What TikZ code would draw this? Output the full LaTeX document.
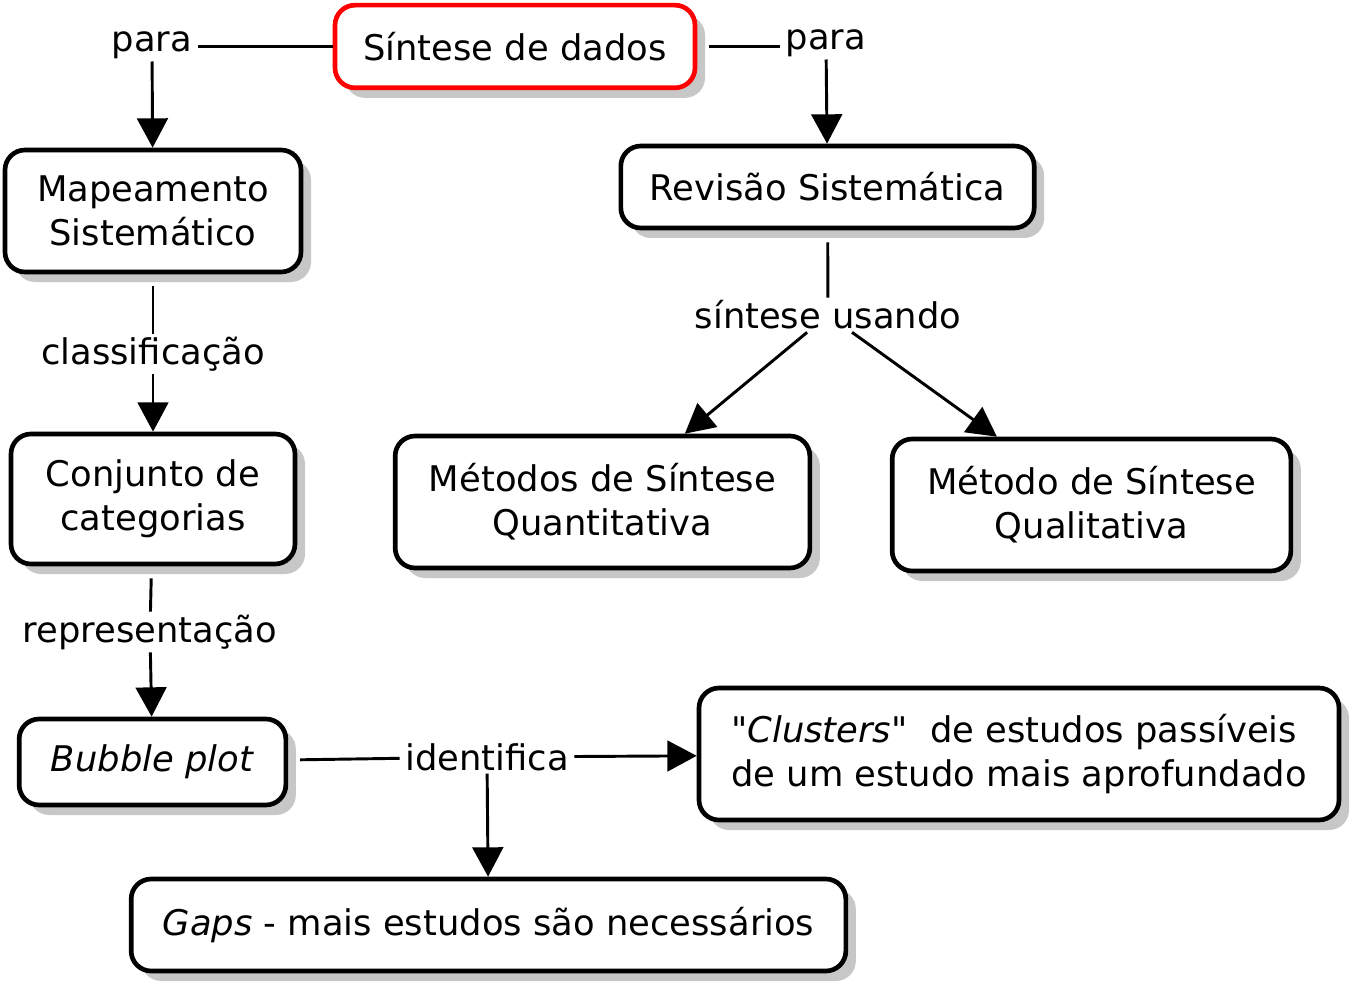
\documentclass[tikz,border=0pt]{standalone}
\usepackage{fontspec}
\setmainfont{DejaVu Sans}[Ligatures=TeXOff]
\usetikzlibrary{arrows.meta,shadows}
\begin{document}
\begin{tikzpicture}[x=0.75pt,y=-0.75pt,font=\fontsize{26.5}{33}\selectfont,line join=round,>={Triangle[length=22pt,width=23pt]},
	caixa/.style={draw,line width=3.5pt,rounded corners=15pt,fill=white,align=center,inner sep=0pt,drop shadow={shadow xshift=7.5pt,shadow yshift=-7.5pt,fill=black!22,opacity=1}},
	rotulo/.style={inner xsep=4pt,inner ysep=2pt},
	liga/.style={line width=2.2pt}]
	\useasboundingbox (0,0) rectangle (1359,991);
	% conceitos
	\node[caixa,draw=red,minimum width=270pt,minimum height=62pt] (sintese) at (515,46.5) {Síntese de dados};
	\node[caixa,minimum width=222pt,minimum height=91.5pt] (mapeamento) at (153,211) {Mapeamento\\Sistemático};
	\node[caixa,minimum width=310pt,minimum height=61.5pt] (revisao) at (827.5,187) {Revisão Sistemática};
	\node[caixa,minimum width=213pt,minimum height=97.5pt] (conjunto) at (153,499) {Conjunto de\\categorias};
	\node[caixa,minimum width=311pt,minimum height=99pt] (quantitativa) at (602.5,502) {Métodos de Síntese\\Quantitativa};
	\node[caixa,minimum width=299pt,minimum height=99pt] (qualitativa) at (1091.5,505) {Método de Síntese\\Qualitativa};
	\node[caixa,minimum width=200pt,minimum height=64.5pt] (bubble) at (152.5,762) {\textit{Bubble plot}};
	\node[caixa,align=left,minimum width=480pt,minimum height=99pt] (clusters) at (1019,754) {\textit{"Clusters"}~ de estudos passíveis\\de um estudo mais aprofundado};
	\node[caixa,minimum width=536pt,minimum height=69pt] (gaps) at (488.5,925) {\textit{Gaps} - mais estudos são necessários};
	% frases de ligacao
	\node[rotulo] (paraL) at (152,45) {para};
	\node[rotulo] (paraR) at (826,43) {para};
	\node[rotulo] (classif) at (153,354) {classificação};
	\node[rotulo] (sintuso) at (828,315) {síntese usando};
	\node[rotulo] (repres) at (150,632) {representação};
	\node[rotulo] (ident) at (487,757) {identifica};
	% ligacoes
	\draw[liga] (sintese.west) -- (sintese.west -| paraL.east);
	\draw[liga,->] (paraL) -- (mapeamento);
	\draw[liga,shorten <=9pt] (sintese.east) -- (sintese.east -| paraR.west);
	\draw[liga,->] (paraR) -- (revisao);
	\draw[liga,shorten <=9pt] (mapeamento) -- (classif);
	\draw[liga,->] (classif) -- (conjunto);
	\draw[liga,shorten <=9pt] (revisao) -- (sintuso);
	\draw[liga,->] (sintuso) -- (quantitativa);
	\draw[liga,->] (sintuso) -- (qualitativa);
	\draw[liga,shorten <=9pt] (conjunto) -- (repres);
	\draw[liga,->] (repres) -- (bubble);
	\draw[liga,shorten <=9pt] (bubble) -- (ident);
	\draw[liga,->] (ident) -- (clusters);
	\draw[liga,->] (ident) -- (gaps);
\end{tikzpicture}
\end{document}
